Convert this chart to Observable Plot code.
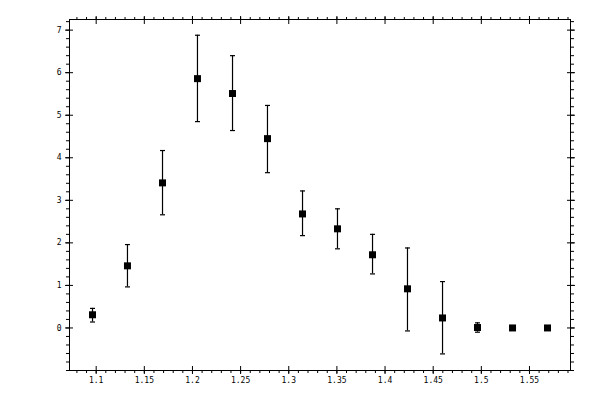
<!DOCTYPE html>
<html>
<head>
<meta charset="utf-8">
<script src="https://cdn.jsdelivr.net/npm/d3@7"></script>
<script src="https://cdn.jsdelivr.net/npm/@observablehq/plot@0.6"></script>
<style>
  html, body { margin: 0; padding: 0; background: #fff; }
</style>
</head>
<body>
<div id="chart"></div>
<script>
const xs = [1.0962, 1.1325, 1.1689, 1.2052, 1.2416, 1.2779, 1.3143, 1.3506, 1.3870, 1.4233, 1.4597, 1.4960, 1.5324, 1.5687];
const ys = [0.31, 1.46, 3.41, 5.86, 5.51, 4.45, 2.68, 2.33, 1.72, 0.92, 0.235, 0.01, 0, 0];
const hiErr = [0.46, 1.96, 4.17, 6.88, 6.40, 5.23, 3.22, 2.80, 2.20, 1.88, 1.09, 0.12, null, null];
const loErr = [0.14, 0.965, 2.66, 4.85, 4.64, 3.65, 2.17, 1.86, 1.27, -0.07, -0.61, -0.10, null, null];

const xMajor = [1.1, 1.15, 1.2, 1.25, 1.3, 1.35, 1.4, 1.45, 1.5, 1.55];
const xMinor = d3.range(108, 160).map(v => v / 100);
const yMajor = [0, 1, 2, 3, 4, 5, 6, 7];
const yMinor = d3.range(-5, 37).map(v => v / 5);

const data = xs.map((x, i) => ({x, y: ys[i], hi: hiErr[i], lo: loErr[i]}));
const bars = data.filter(d => d.hi != null);

const capSymbol = {
  draw(ctx) {
    ctx.moveTo(-2.5, 0);
    ctx.lineTo(2.5, 0);
  }
};

const fmt = d => String(+d.toFixed(2));

const chart = Plot.plot({
  width: 600,
  height: 400,
  marginLeft: 69,
  marginRight: 30,
  marginTop: 19,
  marginBottom: 30,
  style: {background: "#fff", fontFamily: "DejaVu Sans Mono", fontSize: "8px", color: "#000"},
  x: {domain: [1.0723, 1.5926]},
  y: {domain: [-1, 7.25]},
  marks: [
    Plot.frame({stroke: "#000"}),
    // bottom axis
    Plot.axisX({anchor: "bottom", ticks: xMinor, tickSize: 3, text: null, stroke: "#000", label: null}),
    Plot.axisX({anchor: "bottom", ticks: xMajor, tickSize: 8, dy: -4, text: null, stroke: "#000", label: null}),
    Plot.axisX({anchor: "bottom", ticks: xMajor, tickSize: 0, tickPadding: 7, tickFormat: fmt, fill: "#000", label: null}),
    // top axis
    Plot.axisX({anchor: "top", ticks: xMinor, tickSize: 3, text: null, stroke: "#000", label: null}),
    Plot.axisX({anchor: "top", ticks: xMajor, tickSize: 8, dy: 4, text: null, stroke: "#000", label: null}),
    // left axis
    Plot.axisY({anchor: "left", ticks: yMinor, tickSize: 3, text: null, stroke: "#000", label: null}),
    Plot.axisY({anchor: "left", ticks: yMajor, tickSize: 8, dx: 4, text: null, stroke: "#000", label: null}),
    Plot.axisY({anchor: "left", ticks: yMajor, tickSize: 0, tickPadding: 8, tickFormat: fmt, fill: "#000", label: null}),
    // right axis
    Plot.axisY({anchor: "right", ticks: yMinor, tickSize: 3, text: null, stroke: "#000", label: null}),
    Plot.axisY({anchor: "right", ticks: yMajor, tickSize: 8, dx: -4, text: null, stroke: "#000", label: null}),
    // error bars
    Plot.ruleX(bars, {x: "x", y1: "lo", y2: "hi", stroke: "#000", strokeWidth: 1.2}),
    Plot.dot(bars, {x: "x", y: "hi", symbol: capSymbol, stroke: "#000", strokeWidth: 1.2, r: 3}),
    Plot.dot(bars, {x: "x", y: "lo", symbol: capSymbol, stroke: "#000", strokeWidth: 1.2, r: 3}),
    // markers
    Plot.dot(data, {x: "x", y: "y", symbol: "square", r: 3.95, fill: "#000", stroke: "none"})
  ]
});
document.getElementById("chart").appendChild(chart);
</script>
</body>
</html>
